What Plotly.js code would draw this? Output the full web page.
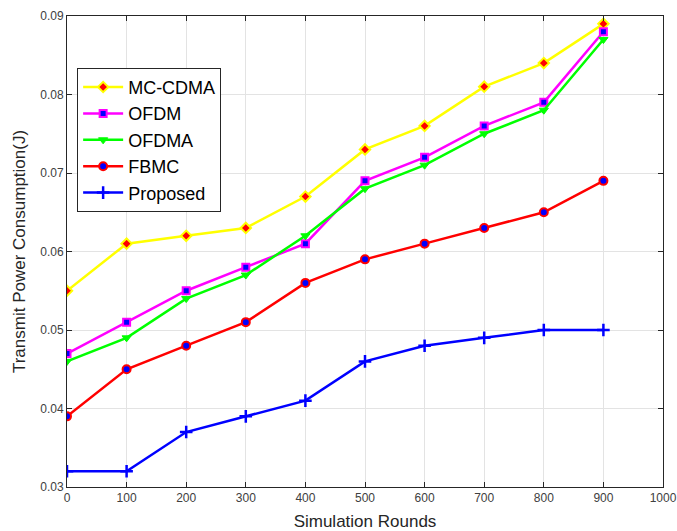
<!DOCTYPE html>
<html><head><meta charset="utf-8">
<script src="https://cdn.plot.ly/plotly-3.0.1.min.js"></script>
<style>body{margin:0;background:#fff}#c{width:677px;height:531px}</style>
</head><body><div id="c"></div>
<script>
const rounds = [0,100,200,300,400,500,600,700,800,900];
const mccdma = [0.055,0.061,0.062,0.063,0.067,0.073,0.076,0.081,0.084,0.089];
const ofdm = [0.047,0.051,0.055,0.058,0.061,0.069,0.072,0.076,0.079,0.088];
const ofdma = [0.046,0.049,0.054,0.057,0.062,0.068,0.071,0.075,0.078,0.087];
const fbmc = [0.039,0.045,0.048,0.051,0.056,0.059,0.061,0.063,0.065,0.069];
const proposed = [0.032,0.032,0.037,0.039,0.041,0.046,0.048,0.049,0.050,0.050];
const xTicks = [0,100,200,300,400,500,600,700,800,900,1000];
const yTicks = [0.03,0.04,0.05,0.06,0.07,0.08,0.09];

const traces = [
 {x:rounds,y:mccdma,name:'MC-CDMA',mode:'lines+markers',line:{color:'#ffff00',width:2.5},
  marker:{symbol:'diamond',size:8,color:'#ff0000',line:{color:'#ffff00',width:2}}},
 {x:rounds,y:ofdm,name:'OFDM',mode:'lines+markers',line:{color:'#ff00ff',width:2.5},
  marker:{symbol:'square',size:7,color:'#0000ff',line:{color:'#ff00ff',width:2}}},
 {x:rounds,y:ofdma,name:'OFDMA',mode:'lines+markers',line:{color:'#00ff00',width:2.5},
  marker:{symbol:'triangle-down',size:8,color:'#00ff00',line:{color:'#00ff00',width:1}}},
 {x:rounds,y:fbmc,name:'FBMC',mode:'lines+markers',line:{color:'#ff0000',width:2.5},
  marker:{symbol:'circle',size:8,color:'#0000ff',line:{color:'#ff0000',width:2}}},
 {x:rounds,y:proposed,name:'Proposed',mode:'lines+markers',line:{color:'#0000ff',width:2.5},
  marker:{symbol:'cross-thin',size:9,color:'#0000ff',line:{color:'#0000ff',width:2.5}}}
];
const axisCommon = {showline:true,linecolor:'#262626',linewidth:1,mirror:'ticks',ticks:'inside',ticklen:5,
  tickcolor:'#262626',showgrid:true,gridcolor:'#e3e3e3',gridwidth:1,zeroline:false,
  tickfont:{family:'Liberation Sans, Arial, sans-serif',size:12,color:'#404040'}};
const layout = {
 width:677,height:531,margin:{l:67,r:14,t:16,b:44},
 paper_bgcolor:'#ffffff',plot_bgcolor:'#ffffff',
 font:{family:'Liberation Sans, Arial, sans-serif'},
 xaxis:Object.assign({},axisCommon,{range:[0,1000],tickvals:xTicks,ticktext:xTicks.map(String),
   title:{text:'Simulation Rounds',font:{size:17,color:'#262626'},standoff:11}}),
 yaxis:Object.assign({},axisCommon,{range:[0.03,0.09],tickvals:yTicks,ticktext:yTicks.map(v=>v.toFixed(2)),
   title:{text:'Transmit Power Consumption(J)',font:{size:17,color:'#262626'},standoff:10}}),
 legend:{x:0.017,y:0.89,xanchor:'left',yanchor:'top',bgcolor:'#ffffff',bordercolor:'#262626',borderwidth:1,
   font:{size:18,color:'#000000'},tracegroupgap:0,itemwidth:40},
 showlegend:true
};
Plotly.newPlot('c',traces,layout,{displayModeBar:false,staticPlot:true});
</script></body></html>
